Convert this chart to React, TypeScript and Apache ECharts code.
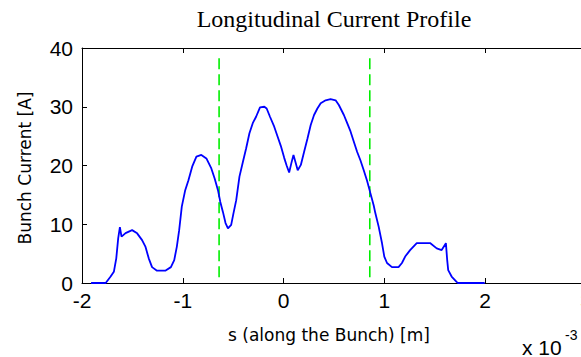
import React, { useEffect, useRef } from "react";
import * as echarts from "echarts";

// Longitudinal position along the bunch, in units of 1e-3 m
const bunchPosition = [
  -1.91, -1.765, -1.716, -1.684, -1.66, -1.641, -1.624, -1.608, -1.568, -1.503,
  -1.453, -1.404, -1.371, -1.338, -1.305, -1.256, -1.174, -1.118, -1.085, -1.059,
  -1.036, -1.01, -0.976, -0.944, -0.905, -0.865, -0.816, -0.766, -0.717, -0.684,
  -0.651, -0.628, -0.602, -0.576, -0.552, -0.52, -0.497, -0.47, -0.438, -0.404,
  -0.372, -0.339, -0.306, -0.273, -0.234, -0.191, -0.168, -0.135, -0.093, -0.059,
  -0.027, 0.006, 0.03, 0.055, 0.077, 0.098, 0.121, 0.14, 0.171, 0.203,
  0.237, 0.269, 0.302, 0.335, 0.368, 0.417, 0.466, 0.516, 0.548, 0.598,
  0.631, 0.664, 0.696, 0.73, 0.762, 0.795, 0.828, 0.861, 0.894, 0.91,
  0.943, 0.976, 0.999, 1.026, 1.075, 1.14, 1.174, 1.206, 1.255, 1.321,
  1.453, 1.519, 1.568, 1.601, 1.61, 1.623, 1.633, 1.667, 1.716, 1.73, 1.995,
];

// Bunch current [A] at each position
const bunchCurrent = [
  0, 0, 1.1, 1.9, 4.2, 7.6, 9.5, 7.9, 8.5, 9.0,
  8.45, 7.3, 6.2, 4.2, 2.7, 2.1, 2.1, 2.7, 3.9, 6.2,
  9.0, 13.0, 15.8, 17.5, 19.9, 21.5, 21.8, 21.2, 19.5, 17.8,
  15.8, 13.8, 12.1, 10.2, 9.3, 9.9, 11.9, 14.1, 18.1, 20.6,
  22.9, 25.5, 27.2, 28.3, 29.9, 30.0, 29.7, 28.3, 26.6, 24.9,
  23.3, 21.3, 20.0, 18.8, 20.4, 21.8, 20.4, 19.2, 20.1, 22.3,
  24.6, 26.9, 28.6, 29.7, 30.6, 31.1, 31.3, 31.1, 30.3, 28.6,
  27.2, 25.8, 24.1, 22.3, 20.9, 19.2, 17.4, 15.3, 13.2, 11.9,
  9.6, 6.8, 4.5, 3.4, 2.7, 2.7, 3.4, 4.5, 5.6, 6.8,
  6.8, 5.9, 5.6, 6.5, 6.8, 3.9, 2.2, 1.1, 0.2, 0, 0,
];

// Slice boundaries marked with dashed lines (1e-3 m) and their vertical extent [A]
const cutPositions = [-0.64, 0.855];
const cutExtent = [1, 39];

// Axis ranges
const xRange = { min: -2, max: 3, interval: 1 };
const yRange = { min: 0, max: 40, interval: 10 };

const titleText = "Longitudinal Current Profile";
const xLabelText = "s (along the Bunch) [m]";
const yLabelText = "Bunch Current [A]";

const tickFont = { fontFamily: "Liberation Sans", fontSize: 21, color: "#000" };

const frameAxis = {
  axisLine: { show: true, onZero: false, lineStyle: { color: "#000", width: 1 } },
  axisTick: { show: true, inside: true, length: 5, lineStyle: { color: "#000", width: 1 } },
  splitLine: { show: false },
};

export default function App() {
  const ref = useRef<HTMLDivElement>(null);

  useEffect(() => {
    if (!ref.current) return;
    const chart = echarts.init(ref.current, null, { renderer: "svg" });

    const profile = bunchPosition.map((s, i) => [s, bunchCurrent[i]]);
    const cutSeries = cutPositions.map((x) => ({
      type: "line",
      data: cutExtent.map((y) => [x, y]),
      symbol: "none",
      silent: true,
      lineStyle: { color: "#00ee00", width: 1.6, type: [11, 5] },
      z: 3,
    }));

    chart.setOption({
      animation: false,
      backgroundColor: "#fff",
      grid: { left: 82, top: 48, width: 504, height: 235, outerBoundsMode: "none", containLabel: false },
      xAxis: [
        {
          type: "value",
          position: "bottom",
          ...xRange,
          ...frameAxis,
          axisLabel: { ...tickFont, margin: 7, showMaxLabel: true },
        },
        {
          type: "value",
          position: "top",
          ...xRange,
          ...frameAxis,
          axisLabel: { show: false },
        },
      ],
      yAxis: [
        {
          type: "value",
          position: "left",
          ...yRange,
          ...frameAxis,
          axisLabel: { ...tickFont, margin: 9 },
        },
        {
          type: "value",
          position: "right",
          ...yRange,
          ...frameAxis,
          axisLabel: { show: false },
        },
      ],
      series: [
        {
          type: "line",
          data: profile,
          symbol: "none",
          lineStyle: { color: "#0000ff", width: 1.8 },
          z: 4,
        },
        ...cutSeries,
      ],
      graphic: [
        {
          type: "text",
          x: 334,
          y: 19,
          style: {
            text: titleText,
            fontFamily: "Liberation Serif",
            fontSize: 24,
            fill: "#000",
            align: "center",
            verticalAlign: "middle",
          },
        },
        {
          type: "text",
          x: 329,
          y: 335,
          style: {
            text: xLabelText,
            fontFamily: "DejaVu Sans",
            fontSize: 17,
            fill: "#000",
            align: "center",
            verticalAlign: "middle",
          },
        },
        {
          type: "text",
          x: 25,
          y: 168,
          rotation: Math.PI / 2,
          style: {
            text: yLabelText,
            fontFamily: "DejaVu Sans",
            fontSize: 17,
            fill: "#000",
            align: "center",
            verticalAlign: "middle",
          },
        },
        {
          type: "text",
          x: 522,
          y: 347,
          style: {
            text: "x 10",
            ...tickFont,
            fill: "#000",
            align: "left",
            verticalAlign: "middle",
          },
        },
        {
          type: "text",
          x: 565,
          y: 335,
          style: {
            text: "-3",
            fontFamily: "Liberation Sans",
            fontSize: 14,
            fill: "#000",
            align: "left",
            verticalAlign: "middle",
          },
        },
      ],
    });

    return () => chart.dispose();
  }, []);

  return (
    <div
      ref={ref}
      style={{ position: "fixed", left: 0, top: 0, width: 581, height: 357, background: "#fff" }}
    />
  );
}
